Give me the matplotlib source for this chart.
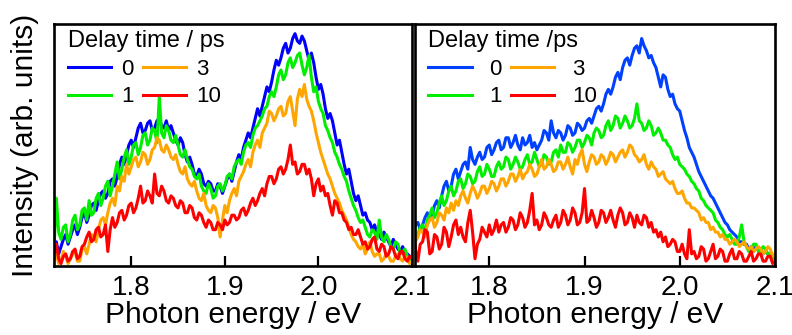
import numpy as np
import matplotlib
matplotlib.use("Agg")
import matplotlib.pyplot as plt

plt.rcParams['font.family'] = ['Liberation Sans', 'DejaVu Sans']

# Photon energy grid (eV), 2.5 meV steps from 1.715 to 2.100
energy = np.round(1.715 + 0.0025 * np.arange(155), 4)

delays = ["0", "1", "3", "10"]

# ---- left panel (normalized intensity) ----
left_0 = [0.06, 0.03, 0.10, 0.05, 0.08, 0.11, 0.13, 0.09, 0.12, 0.15,
          0.17, 0.13, 0.16, 0.20, 0.22, 0.18, 0.21, 0.25, 0.26, 0.23,
          0.27, 0.30, 0.31, 0.28, 0.30, 0.35, 0.36, 0.33, 0.37, 0.42,
          0.45, 0.42, 0.46, 0.50, 0.52, 0.49, 0.53, 0.57, 0.59, 0.55,
          0.56, 0.59, 0.60, 0.56, 0.57, 0.60, 0.61, 0.58, 0.57, 0.60,
          0.56, 0.58, 0.55, 0.52, 0.50, 0.53, 0.51, 0.46, 0.43, 0.45,
          0.42, 0.38, 0.37, 0.40, 0.38, 0.34, 0.33, 0.35, 0.34, 0.31,
          0.31, 0.34, 0.33, 0.30, 0.33, 0.36, 0.38, 0.35, 0.39, 0.43,
          0.46, 0.44, 0.49, 0.52, 0.55, 0.53, 0.57, 0.61, 0.65, 0.62,
          0.66, 0.70, 0.74, 0.72, 0.76, 0.81, 0.85, 0.83, 0.86, 0.90,
          0.92, 0.88, 0.90, 0.94, 0.96, 0.93, 0.92, 0.95, 0.93, 0.89,
          0.85, 0.88, 0.84, 0.78, 0.73, 0.75, 0.71, 0.65, 0.61, 0.63,
          0.60, 0.55, 0.50, 0.52, 0.47, 0.42, 0.38, 0.40, 0.35, 0.30,
          0.27, 0.29, 0.25, 0.21, 0.22, 0.19, 0.18, 0.15, 0.17, 0.14,
          0.13, 0.11, 0.14, 0.12, 0.10, 0.08, 0.11, 0.09, 0.07, 0.06,
          0.08, 0.05, 0.05, 0.04, 0.04]
left_1 = [0.12, 0.07, 0.28, 0.14, 0.11, 0.16, 0.17, 0.10, 0.13, 0.19,
          0.21, 0.15, 0.17, 0.23, 0.24, 0.19, 0.27, 0.21, 0.22, 0.28,
          0.30, 0.25, 0.28, 0.33, 0.35, 0.29, 0.33, 0.38, 0.43, 0.36,
          0.40, 0.45, 0.48, 0.42, 0.45, 0.50, 0.51, 0.46, 0.49, 0.54,
          0.55, 0.50, 0.52, 0.57, 0.56, 0.51, 0.70, 0.55, 0.53, 0.58,
          0.56, 0.52, 0.51, 0.54, 0.50, 0.46, 0.45, 0.48, 0.44, 0.41,
          0.40, 0.37, 0.36, 0.38, 0.33, 0.31, 0.30, 0.34, 0.32, 0.28,
          0.29, 0.33, 0.34, 0.31, 0.33, 0.37, 0.38, 0.36, 0.41, 0.43,
          0.44, 0.42, 0.47, 0.50, 0.51, 0.49, 0.54, 0.57, 0.58, 0.60,
          0.62, 0.65, 0.66, 0.70, 0.72, 0.70, 0.74, 0.79, 0.81, 0.77,
          0.79, 0.84, 0.86, 0.82, 0.84, 0.87, 0.88, 0.83, 0.79, 0.82,
          0.87, 0.78, 0.72, 0.74, 0.68, 0.65, 0.63, 0.58, 0.56, 0.53,
          0.51, 0.47, 0.45, 0.42, 0.40, 0.37, 0.35, 0.31, 0.28, 0.25,
          0.23, 0.20, 0.18, 0.19, 0.16, 0.13, 0.12, 0.15, 0.14, 0.11,
          0.19, 0.12, 0.10, 0.13, 0.11, 0.08, 0.07, 0.10, 0.09, 0.05,
          0.06, 0.07, 0.04, 0.02, 0.03]
left_3 = [0.02, 0.04, 0.05, 0.01, 0.02, 0.06, 0.04, 0.01, 0.03, 0.05,
          0.06, 0.02, 0.02, 0.07, 0.08, 0.05, 0.09, 0.13, 0.12, 0.10,
          0.15, 0.19, 0.20, 0.17, 0.22, 0.26, 0.28, 0.25, 0.33, 0.31,
          0.37, 0.35, 0.42, 0.38, 0.41, 0.44, 0.45, 0.41, 0.43, 0.47,
          0.46, 0.42, 0.44, 0.48, 0.49, 0.53, 0.52, 0.48, 0.47, 0.50,
          0.48, 0.45, 0.44, 0.46, 0.42, 0.39, 0.38, 0.41, 0.36, 0.34,
          0.33, 0.35, 0.31, 0.28, 0.27, 0.30, 0.25, 0.23, 0.22, 0.25,
          0.24, 0.20, 0.12, 0.19, 0.25, 0.22, 0.27, 0.30, 0.32, 0.29,
          0.35, 0.37, 0.39, 0.42, 0.44, 0.41, 0.47, 0.50, 0.52, 0.49,
          0.55, 0.57, 0.59, 0.64, 0.63, 0.60, 0.62, 0.65, 0.66, 0.62,
          0.63, 0.68, 0.70, 0.64, 0.58, 0.69, 0.73, 0.70, 0.75, 0.69,
          0.66, 0.64, 0.60, 0.55, 0.51, 0.47, 0.44, 0.41, 0.38, 0.36,
          0.33, 0.30, 0.28, 0.26, 0.23, 0.21, 0.19, 0.16, 0.13, 0.11,
          0.10, 0.08, 0.07, 0.09, 0.05, 0.07, 0.10, 0.06, 0.04, 0.05,
          0.05, 0.02, 0.03, 0.05, 0.04, 0.02, 0.02, 0.04, 0.05, 0.03,
          0.02, 0.04, 0.03, 0.01, 0.02]
left_10 = [0.02, 0.06, 0.09, 0.03, 0.01, 0.04, 0.05, 0.02, 0.03, 0.06,
           0.07, 0.03, 0.04, 0.08, 0.09, 0.12, 0.14, 0.10, 0.11, 0.15,
           0.16, 0.12, 0.13, 0.17, 0.06, 0.15, 0.20, 0.16, 0.18, 0.22,
           0.23, 0.19, 0.21, 0.25, 0.26, 0.22, 0.24, 0.28, 0.33, 0.26,
           0.27, 0.31, 0.29, 0.26, 0.38, 0.30, 0.29, 0.33, 0.31, 0.27,
           0.26, 0.29, 0.28, 0.25, 0.24, 0.27, 0.26, 0.22, 0.22, 0.25,
           0.24, 0.20, 0.19, 0.22, 0.21, 0.18, 0.16, 0.19, 0.18, 0.15,
           0.15, 0.18, 0.17, 0.15, 0.19, 0.17, 0.18, 0.21, 0.21, 0.19,
           0.20, 0.23, 0.24, 0.21, 0.23, 0.26, 0.28, 0.25, 0.27, 0.30,
           0.32, 0.29, 0.34, 0.37, 0.37, 0.34, 0.36, 0.40, 0.41, 0.38,
           0.40, 0.44, 0.50, 0.42, 0.43, 0.38, 0.39, 0.42, 0.42, 0.38,
           0.40, 0.36, 0.29, 0.34, 0.36, 0.31, 0.33, 0.29, 0.30, 0.25,
           0.21, 0.27, 0.26, 0.22, 0.22, 0.19, 0.18, 0.15, 0.16, 0.13,
           0.13, 0.15, 0.12, 0.09, 0.10, 0.07, 0.08, 0.11, 0.12, 0.07,
           0.06, 0.09, 0.08, 0.04, 0.05, 0.08, 0.07, 0.04, 0.03, 0.06,
           0.06, 0.03, 0.02, 0.04, 0.03]

# ---- right panel (normalized intensity) ----
right_0 = [0.12, 0.10, 0.14, 0.17, 0.18, 0.15, 0.17, 0.20, 0.22, 0.19,
           0.21, 0.25, 0.27, 0.24, 0.29, 0.33, 0.35, 0.31, 0.33, 0.38,
           0.40, 0.36, 0.39, 0.42, 0.43, 0.40, 0.49, 0.44, 0.42, 0.45,
           0.47, 0.44, 0.45, 0.49, 0.50, 0.46, 0.48, 0.51, 0.52, 0.48,
           0.49, 0.53, 0.53, 0.49, 0.51, 0.54, 0.50, 0.48, 0.53, 0.50,
           0.51, 0.54, 0.49, 0.51, 0.48, 0.50, 0.52, 0.56, 0.55, 0.52,
           0.60, 0.55, 0.53, 0.56, 0.55, 0.52, 0.54, 0.58, 0.57, 0.54,
           0.55, 0.59, 0.58, 0.56, 0.57, 0.60, 0.61, 0.59, 0.62, 0.65,
           0.66, 0.64, 0.67, 0.71, 0.73, 0.71, 0.74, 0.78, 0.80, 0.77,
           0.82, 0.85, 0.86, 0.83, 0.87, 0.90, 0.91, 0.88, 0.94, 0.91,
           0.89, 0.86, 0.87, 0.84, 0.82, 0.78, 0.74, 0.79, 0.78, 0.73,
           0.70, 0.71, 0.67, 0.65, 0.64, 0.60, 0.56, 0.53, 0.49, 0.47,
           0.45, 0.42, 0.39, 0.37, 0.35, 0.33, 0.31, 0.29, 0.28, 0.26,
           0.24, 0.22, 0.20, 0.18, 0.17, 0.15, 0.14, 0.13, 0.12, 0.10,
           0.10, 0.09, 0.09, 0.07, 0.08, 0.06, 0.08, 0.07, 0.07, 0.05,
           0.06, 0.05, 0.05, 0.04, 0.04]
right_1 = [0.10, 0.05, 0.27, 0.12, 0.13, 0.16, 0.17, 0.14, 0.19, 0.21,
           0.24, 0.20, 0.22, 0.26, 0.29, 0.25, 0.27, 0.31, 0.33, 0.29,
           0.31, 0.35, 0.36, 0.32, 0.34, 0.38, 0.37, 0.34, 0.35, 0.39,
           0.41, 0.37, 0.38, 0.42, 0.40, 0.37, 0.37, 0.41, 0.43, 0.40,
           0.41, 0.45, 0.44, 0.40, 0.42, 0.45, 0.43, 0.40, 0.41, 0.44,
           0.46, 0.42, 0.43, 0.47, 0.44, 0.41, 0.42, 0.46, 0.45, 0.42,
           0.43, 0.47, 0.48, 0.45, 0.50, 0.47, 0.47, 0.51, 0.50, 0.47,
           0.49, 0.52, 0.52, 0.49, 0.51, 0.54, 0.53, 0.50, 0.55, 0.57,
           0.56, 0.53, 0.54, 0.58, 0.60, 0.56, 0.58, 0.62, 0.61, 0.57,
           0.59, 0.62, 0.60, 0.57, 0.58, 0.61, 0.67, 0.60, 0.59, 0.56,
           0.57, 0.60, 0.58, 0.54, 0.55, 0.57, 0.55, 0.52, 0.52, 0.50,
           0.49, 0.46, 0.44, 0.45, 0.42, 0.41, 0.40, 0.38, 0.37, 0.35,
           0.34, 0.32, 0.31, 0.28, 0.27, 0.25, 0.24, 0.23, 0.22, 0.19,
           0.18, 0.16, 0.15, 0.13, 0.12, 0.13, 0.11, 0.09, 0.09, 0.12,
           0.17, 0.10, 0.08, 0.06, 0.07, 0.09, 0.09, 0.06, 0.06, 0.08,
           0.07, 0.05, 0.05, 0.03, 0.04]
right_3 = [0.08, 0.11, 0.20, 0.10, 0.12, 0.15, 0.14, 0.12, 0.17, 0.19,
           0.20, 0.16, 0.18, 0.22, 0.21, 0.19, 0.24, 0.22, 0.26, 0.23,
           0.27, 0.25, 0.29, 0.31, 0.28, 0.26, 0.30, 0.33, 0.31, 0.28,
           0.30, 0.33, 0.33, 0.30, 0.32, 0.35, 0.34, 0.31, 0.33, 0.36,
           0.36, 0.33, 0.35, 0.38, 0.38, 0.35, 0.37, 0.40, 0.36, 0.38,
           0.39, 0.42, 0.40, 0.37, 0.38, 0.41, 0.44, 0.40, 0.41, 0.44,
           0.42, 0.39, 0.40, 0.43, 0.43, 0.40, 0.42, 0.45, 0.41, 0.38,
           0.44, 0.42, 0.46, 0.48, 0.42, 0.39, 0.43, 0.46, 0.45, 0.42,
           0.43, 0.46, 0.45, 0.42, 0.44, 0.47, 0.46, 0.43, 0.45, 0.47,
           0.48, 0.45, 0.47, 0.50, 0.49, 0.46, 0.45, 0.43, 0.44, 0.46,
           0.42, 0.40, 0.43, 0.41, 0.40, 0.37, 0.38, 0.39, 0.36, 0.35,
           0.34, 0.35, 0.32, 0.30, 0.30, 0.31, 0.28, 0.26, 0.26, 0.24,
           0.24, 0.23, 0.22, 0.19, 0.20, 0.18, 0.18, 0.15, 0.16, 0.14,
           0.14, 0.12, 0.13, 0.11, 0.11, 0.09, 0.10, 0.11, 0.10, 0.08,
           0.09, 0.10, 0.08, 0.07, 0.08, 0.06, 0.07, 0.08, 0.07, 0.05,
           0.06, 0.08, 0.07, 0.04, 0.05]
right_10 = [0.12, 0.08, 0.18, 0.07, 0.02, 0.09, 0.10, 0.15, 0.14, 0.05,
            0.06, 0.13, 0.12, 0.07, 0.09, 0.16, 0.14, 0.08, 0.12, 0.17,
            0.19, 0.13, 0.16, 0.12, 0.10, 0.18, 0.23, 0.14, 0.03, 0.09,
            0.11, 0.16, 0.14, 0.12, 0.17, 0.13, 0.15, 0.19, 0.14, 0.17,
            0.18, 0.14, 0.16, 0.20, 0.19, 0.15, 0.17, 0.22, 0.20, 0.16,
            0.18, 0.23, 0.30, 0.17, 0.19, 0.15, 0.17, 0.22, 0.20, 0.17,
            0.16, 0.19, 0.21, 0.16, 0.18, 0.23, 0.21, 0.17, 0.19, 0.24,
            0.22, 0.17, 0.18, 0.22, 0.32, 0.18, 0.19, 0.23, 0.20, 0.16,
            0.18, 0.23, 0.22, 0.18, 0.20, 0.23, 0.19, 0.16, 0.21, 0.24,
            0.22, 0.17, 0.18, 0.22, 0.20, 0.16, 0.21, 0.18, 0.17, 0.21,
            0.20, 0.16, 0.18, 0.14, 0.15, 0.12, 0.14, 0.10, 0.12, 0.08,
            0.09, 0.11, 0.10, 0.06, 0.06, 0.09, 0.05, 0.03, 0.15, 0.05,
            0.06, 0.03, 0.04, 0.08, 0.07, 0.02, 0.03, 0.06, 0.09, 0.03,
            0.04, 0.07, 0.06, 0.02, 0.02, 0.05, 0.07, 0.03, 0.03, 0.06,
            0.05, 0.02, 0.02, 0.04, 0.06, 0.02, 0.03, 0.05, 0.05, 0.02,
            0.02, 0.04, 0.04, 0.01, 0.02]

xticks = [1.8, 1.9, 2.0, 2.1]
xtick_labels = ["1.8", "1.9", "2.0", "2.1"]

left_colors = ["#0000ff", "#00ee00", "#ffa500", "#ff0000"]
right_colors = ["#0040ff", "#00ee00", "#ffa500", "#ff0000"]

W, H = 792, 335
fig = plt.figure(figsize=(W / 100, H / 100), dpi=100)
ax1 = fig.add_axes([54 / W, 1 - 266 / H, (412 - 54) / W, (266 - 24) / H])
ax2 = fig.add_axes([414.5 / W, 1 - 266 / H, (775 - 414.5) / W, (266 - 24) / H])

panels = [
    (ax1, [left_0, left_1, left_3, left_10], left_colors, (1.7175, 2.1),
     "Delay time / ps", (0.039, 0.975), 0.45),
    (ax2, [right_0, right_1, right_3, right_10], right_colors, (1.7215, 2.1),
     "Delay time /ps", (0.038, 0.975), 0.8),
]

for ax, series, colors, xlim, title, anchor, tpad in panels:
    for y, c, lab in zip(series, colors, delays):
        ax.plot(energy, y, color=c, lw=2.2, label=lab)
    ax.set_xlim(*xlim)
    ax.set_ylim(0, 1.0)
    ax.set_xticks(xticks)
    ax.set_xticklabels(xtick_labels)
    ax.set_yticks([])
    ax.tick_params(axis='x', direction='in', length=7, width=1.6,
                   labelsize=20, pad=6.5)
    for s in ax.spines.values():
        s.set_linewidth(1.9)
        s.set_color('black')
    ax.set_xlabel("Photon energy / eV", fontsize=21.5, labelpad=0)
    ax.legend(ncol=2, title=title, frameon=False, loc='upper left',
              bbox_to_anchor=anchor, fontsize=16, title_fontsize=17,
              handlelength=1.95, handletextpad=tpad, columnspacing=0.4,
              labelspacing=0.3, borderaxespad=0, borderpad=0,
              alignment='left')

ax1.set_ylabel("Intensity (arb. units)", fontsize=21.5, labelpad=11)

fig.savefig("out.png", dpi=100)
